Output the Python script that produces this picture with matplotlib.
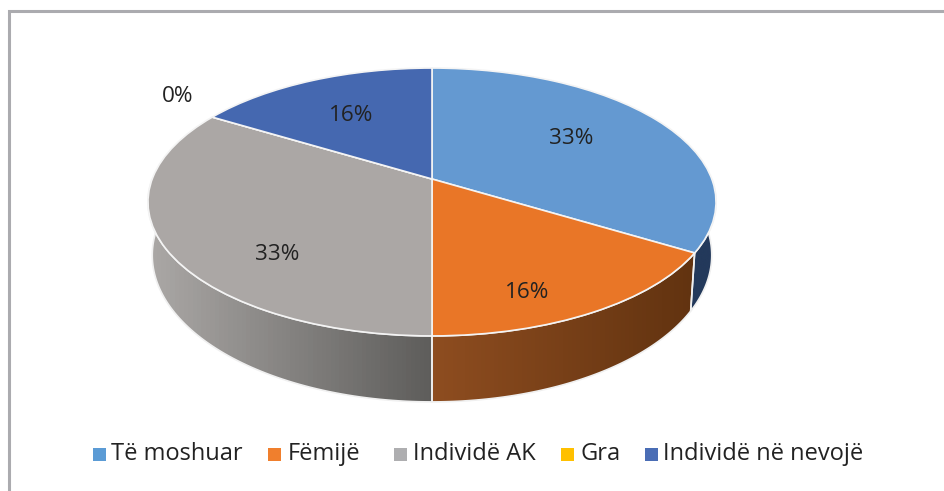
import numpy as np
import matplotlib
matplotlib.use('Agg')
import matplotlib.pyplot as plt
from matplotlib.colors import LinearSegmentedColormap
from matplotlib.patches import Polygon, Rectangle
from matplotlib.transforms import Transform

plt.rcParams['font.family'] = ['Open Sans', 'DejaVu Sans']

CATEGORIES = ['Të moshuar', 'Fëmijë', 'Individë AK', 'Gra', 'Individë në nevojë']
VALUES = [33, 16, 33, 0, 16]
VALUE_LABELS = ['33%', '16%', '33%', '0%', '16%']
TOP_COLORS = ['#6499D1', '#E97627', '#ABA7A5', '#FFC000', '#4568B0']
LEGEND_COLORS = ['#5B9BD5', '#F07F2D', '#AEAEB0', '#FFC000', '#4A6DB5']
# цвет боковой стенки: слева -> справа
WALL_COLORS = [('#23395B', '#23395B'), ('#8E4D20', '#623310'), ('#ABA8A6', '#5E5D5B'),
               ('#8A6A00', '#8A6A00'), ('#2A4070', '#2A4070')]

LABEL_POS = [(571, 138), (527, 293), (277, 254), (178, 96), (351, 115)]
LEGEND_BOX_X = [93, 268, 394, 561, 645]
LEGEND_TEXT_X = [111, 288, 413, 580, 663]


class TiltedPie(Transform):
    """Единичный круг -> эллипс с перспективой, в пикселях картинки."""
    input_dims = 2
    output_dims = 2
    has_inverse = False
    is_affine = False

    def __init__(self, cx=432, cy=179, sx=279.8, sy=130, k=0.1716):
        super().__init__()
        self.cx, self.cy, self.sx, self.sy, self.k = cx, cy, sx, sy, k

    def transform_non_affine(self, values):
        values = np.asarray(values, dtype=float)
        w = 1 + self.k * values[:, 1]
        return np.column_stack([self.cx + self.sx * values[:, 0] / w,
                                self.cy - self.sy * values[:, 1] / w])


def wall_outline(tilt, t_start, t_end):
    t = np.radians(np.linspace(t_start, t_end, 80))
    top = tilt.transform(np.column_stack([np.cos(t), np.sin(t)]))
    # нижний край чуть уже и глубже верхнего
    bottom = np.column_stack([432 + (top[:, 0] - 432) * 0.985,
                              310 + (top[:, 1] - 252) * 1.095])
    return np.vstack([top, bottom[::-1]])


fig = plt.figure(figsize=(9.44, 4.91), dpi=100, facecolor='white')
ax = fig.add_axes([0, 0, 1, 1])
tilt = TiltedPie()

wedges, _ = ax.pie(VALUES, colors=TOP_COLORS, startangle=90, counterclock=False,
                   wedgeprops={'edgecolor': '#F4F4F4', 'linewidth': 1.2})
for w in wedges:
    w.set_transform(tilt + ax.transData)
    w.set_zorder(5)

# стенки: только передняя половина круга
edges = 90 - np.cumsum([0] + VALUES) / sum(VALUES) * 360
for i in range(len(VALUES)):
    hi = min(edges[i], 0)
    lo = max(edges[i + 1], -180)
    if hi - lo <= 0:
        continue
    pts = wall_outline(tilt, hi, lo)
    cmap = LinearSegmentedColormap.from_list('wall', WALL_COLORS[i])
    x0, x1 = pts[:, 0].min(), pts[:, 0].max()
    y0, y1 = pts[:, 1].min(), pts[:, 1].max()
    img = ax.imshow(np.linspace(0, 1, 64).reshape(1, -1), cmap=cmap, aspect='auto',
                    extent=(x0, x1, y1, y0), zorder=2)
    clip = Polygon(pts, closed=True, transform=ax.transData, fill=False, edgecolor='none')
    ax.add_patch(clip)
    img.set_clip_path(clip)
    ax.add_patch(Polygon(pts, closed=True, fill=False, edgecolor='#F0F0F0',
                         linewidth=1.2, zorder=3))

ax.set_aspect('auto')
ax.set_xlim(0, 944)
ax.set_ylim(491, 0)
ax.axis('off')

for (x, y), label in zip(LABEL_POS, VALUE_LABELS):
    ax.text(x, y, label, ha='center', va='center', fontsize=16.2, color='#222222', zorder=6)

# рамка слева и сверху
ax.plot([8.5, 8.5, 944], [491, 11, 11], color='#ABABAF', linewidth=2.2, zorder=1,
        solid_joinstyle='miter')

# легенда вручную: интервалы в оригинале неровные
for box_x, text_x, name, color in zip(LEGEND_BOX_X, LEGEND_TEXT_X, CATEGORIES, LEGEND_COLORS):
    ax.add_patch(Rectangle((box_x, 448), 13, 13, facecolor=color, edgecolor='none', zorder=6))
    ax.text(text_x, 454, name, ha='left', va='center', fontsize=17, color='#222222', zorder=6)

fig.savefig('out.png', dpi=100)
plt.close(fig)
